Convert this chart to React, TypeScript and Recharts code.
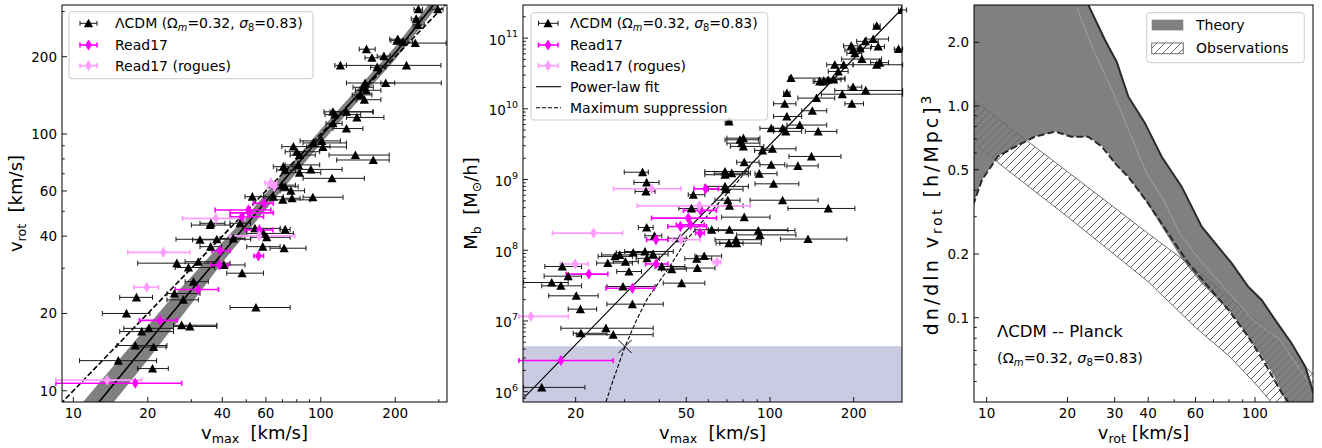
import React from 'react';
import { ComposedChart, XAxis, YAxis, Scatter, Line, Area, ErrorBar, ReferenceArea } from 'recharts';

const FONT = "'DejaVu Sans', 'Liberation Sans', sans-serif";
const MAGENTA = '#ff00ff';
const ROGUE = '#ff9cff';

// ---------------- Panel 1: v_rot vs v_max  [vmax, vrot, vmaxLow, vmaxHigh]
const p1Lcdm: number[][] = [
  [297, 306, 277, 312], [248, 306, 238, 258], [243, 281, 232, 255], [247, 266, 236, 262],
  [205, 234, 190, 225], [215, 228, 200, 235], [241, 226, 220, 321], [203, 231, 192, 215],
  [153, 214, 143, 166], [161, 198, 151, 179], [180, 201, 169, 191], [120, 185, 114, 127],
  [222, 185, 127, 306], [169, 182, 159, 183], [151, 158, 127, 307], [183, 158, 175, 199],
  [148, 152, 135, 163], [153, 148, 138, 175], [150, 136, 139, 175], [145, 142, 134, 161],
  [112, 122, 103, 163], [114, 119, 104, 145], [127, 122, 109, 162], [140, 116, 127, 180],
  [112, 110, 105, 122], [127, 105, 112, 148], [101, 94, 82.5, 120], [93.4, 92.3, 84.8, 127],
  [102, 89, 87.7, 127], [77.5, 89.3, 69.6, 109], [80, 85.3, 71.8, 99], [82, 82.8, 75.2, 95],
  [138, 82.8, 108, 189], [163, 79.2, 116, 189], [70.6, 74.6, 64.3, 82.5], [71.8, 72.4, 66.4, 79],
  [81.2, 75.8, 71.8, 99], [91.2, 72.8, 82.5, 122], [82, 70.7, 71.8, 100], [111, 67.2, 84.8, 150],
  [69.6, 63.2, 62.4, 79], [71.8, 62.3, 64, 81], [75.7, 60.1, 68.5, 86], [52.9, 57, 49.4, 58.7],
  [64.3, 57, 59.5, 70.6], [70.2, 55.4, 64.3, 90.6], [76.5, 56.2, 70.6, 82.5], [92.9, 56.7, 84.8, 123],
  [35.7, 44.2, 30, 43], [36, 44.9, 32.5, 41], [47.2, 44.9, 43, 52], [71.8, 42.5, 68.5, 75.2],
  [54.2, 42.9, 49.4, 68.5], [32.5, 38.7, 30.3, 38], [38, 38.9, 26, 52.1], [44.3, 39.2, 39.2, 49.4],
  [58.7, 41, 50.2, 77.5], [60.5, 39.6, 52.1, 75.2], [35.9, 36.4, 32.5, 39.7], [58.3, 36.4, 50.2, 68.5],
  [71.1, 35.9, 62.4, 87.2], [26.2, 31.4, 18.2, 43], [29.2, 30.2, 25.8, 37.3], [32, 31.8, 28.3, 38.6],
  [40.6, 30.9, 36.7, 49.4], [48.1, 28.7, 41.7, 58.7], [30.6, 26.6, 28.3, 35.1], [25.6, 23.9, 23.9, 32.5],
  [27.8, 22.6, 23.9, 32], [18, 23.1, 15.4, 20.9], [16.4, 20, 13.1, 20.4], [54.7, 21.1, 43, 75.2],
  [27.4, 18, 25.4, 38], [29.6, 17.8, 25.4, 38], [18.9, 17, 15.4, 25.4], [20.2, 17.5, 16, 25.4],
  [17.8, 15, 15, 23.9], [21.1, 14.8, 18, 23.7], [15.2, 13.1, 10.6, 21.7], [20.9, 12.2, 18.2, 24.2],
];
const p1Read17: number[][] = [
  [17.8, 10.7, 8.5, 27.4], [22.4, 18.8, 18.5, 26.2], [32, 24.8, 25.8, 38.6], [38.9, 30.9, 35.9, 42.3],
  [39.2, 35.1, 36.3, 43], [56, 33.5, 53.7, 58.7], [56.5, 42.3, 49.4, 64], [48, 47.6, 43, 58.7],
  [51, 50.6, 37.4, 62.8], [51.4, 49.3, 43, 64.3], [59, 53.7, 53.4, 64.3],
];
const p1Rogues: number[][] = [
  [13.7, 11.0, 8.5, 18.9], [19.8, 25.3, 17.6, 22.1], [23.1, 34.6, 16.6, 29.6], [37.7, 46.9, 27.6, 49.4],
  [56.4, 40.1, 43, 78.5], [62.8, 64.6, 59.5, 66.4], [65, 62.4, 61, 69],
];
const p1Fit: number[][] = [[12.7, 9.04], [25, 20], [48, 42.3], [102, 100], [200, 207], [285, 318]];
const p1OneToOne: number[][] = [[8, 8], [330, 330]];
// [vmax, low, high]
const p1Band: number[][] = [
  [10.8, 6.3, 8.9], [13, 7.9, 11.0], [16, 10.1, 13.9], [20, 13.2, 17.9], [25, 17.4, 23.0],
  [30, 21.8, 27.8], [40, 31.6, 37.9], [48, 39.2, 45.7], [70, 60.8, 69.7], [102, 93.9, 106.5],
  [150, 143, 160.7], [200, 195, 219], [285, 300, 337], [330, 358, 403],
];
const p1XTicks = [10, 20, 30, 40, 50, 60, 70, 80, 90, 100, 200, 300];
const p1XMajor = [10, 20, 40, 60, 100, 200];
const p1XLabels = ['10', '20', '40', '60', '100', '200'];
const p1YTicks = [10, 20, 30, 40, 50, 60, 70, 80, 90, 100, 200, 300];
const p1YMajor = [10, 20, 40, 60, 100, 200];
const p1YLabels = ['10', '20', '40', '60', '100', '200'];

// ---------------- Panel 2: M_b vs v_max  [vmax, Mb, vmaxLow, vmaxHigh]
const p2Lcdm: number[][] = [
  [298, 2.5e11, 290, 310], [242, 1.49e11, 236, 249], [196, 7.8e10, 184, 207], [199, 6.8e10, 186, 217],
  [202, 6.1e10, 189, 214], [211, 7.2e10, 199, 230], [220, 9.0e10, 205, 245], [235, 9.7e10, 222, 267],
  [245, 7.6e10, 232, 258], [290, 7.0e10, 280, 300], [214, 5.05e10, 181, 252], [171, 4.2e10, 160, 184],
  [184, 4.2e10, 171, 199], [242, 4.2e10, 199, 300], [248, 4.5e10, 230, 267], [176, 3.38e10, 162, 191],
  [119, 2.72e10, 117, 186], [151, 2.44e10, 143, 171], [156, 2.44e10, 145, 174], [162, 2.58e10, 150, 180],
  [169, 2.63e10, 156, 186], [199, 2.03e10, 191, 214], [221, 1.82e10, 171, 300], [182, 1.61e10, 153, 300],
  [115, 1.67e10, 112, 118], [147, 1.42e10, 126, 171], [113, 1.18e10, 103, 124], [197, 1.18e10, 186, 217],
  [142, 9.4e9, 130, 160], [115, 7.8e9, 103, 130], [71.2, 6.6e9, 69, 73], [128, 5.9e9, 115, 160],
  [149, 4.8e9, 134, 174], [101, 5.3e9, 92, 113], [111, 5.3e9, 103, 130], [114, 4.8e9, 103, 130],
  [78, 3.65e9, 68.9, 90.8], [80.2, 3.85e9, 70, 92], [79.1, 3.27e9, 70, 92], [80.2, 2.94e9, 72, 95],
  [94, 2.58e9, 88, 102], [102, 2.72e9, 93, 124], [80.8, 1.76e9, 75.9, 91.3], [141, 2.12e9, 117, 180],
  [101, 1.62e9, 92, 113], [126, 1.56e9, 115, 149], [68.9, 1.3e9, 58.3, 83.6], [72.8, 1.23e9, 63, 85],
  [68.9, 1.17e9, 58.3, 83.6], [34.8, 1.27e9, 29.9, 36.5], [91.5, 1.21e9, 88.3, 106], [36.0, 9.1e8, 32.4, 39.9],
  [35.8, 6.8e8, 32.7, 38.6], [68.9, 8.0e8, 58.3, 83.6], [69.3, 7.3e8, 60, 80], [103, 8.7e8, 88.3, 127],
  [53.0, 6.1e8, 50.8, 58.3], [111, 5.1e8, 84.8, 149], [70.5, 5.1e8, 63.4, 78], [71.5, 4.25e8, 65, 80],
  [162, 3.9e8, 116, 202], [52.2, 3.9e8, 47, 57], [80.8, 2.94e8, 67, 100], [36.0, 2.1e8, 33.6, 38],
  [38.4, 1.6e8, 35.5, 40.8], [61.7, 1.95e8, 53.7, 65.2], [71.5, 1.95e8, 60, 116], [90.8, 1.9e8, 60, 123],
  [92.0, 1.65e8, 75.9, 124], [137, 1.44e8, 109, 189], [75.5, 1.41e8, 63.4, 93.3], [75.9, 1.26e8, 66, 93],
  [71.2, 1.26e8, 64, 80], [47.5, 1.48e8, 43, 50], [58.0, 8.3e7, 53.7, 67], [54.5, 7.6e7, 49.4, 61.7],
  [35.5, 9.6e7, 30, 44.9], [38.0, 8.8e7, 32, 43], [32.2, 9.3e7, 28, 38], [28.8, 8.6e7, 24.8, 33],
  [27.7, 8.2e7, 24.1, 32], [26.1, 6.6e7, 23.8, 32], [30.2, 6.9e7, 27.3, 33.6], [36.1, 7.7e7, 33, 40],
  [40.8, 5.9e7, 38.6, 49.4], [44.3, 5.4e7, 40.8, 50], [54.8, 5.6e7, 44.9, 63.4], [17.9, 5.9e7, 15.5, 21.0],
  [18.8, 4.3e7, 15.4, 21.0], [16.4, 3.5e7, 13.0, 18.8], [17.7, 3.14e7, 15.1, 21.0], [31.1, 5.0e7, 28.1, 34.5],
  [48.1, 3.43e7, 41.3, 58.3], [29.6, 3.07e7, 25.9, 38.6], [20.1, 2.27e7, 16.0, 24.1], [32.0, 1.73e7, 25.9, 41.3],
  [20.8, 1.47e7, 18.8, 23.8], [25.7, 7.9e6, 17.7, 38.0], [20.9, 6.7e6, 19.6, 25.9], [27.3, 6.4e6, 20.1, 38.0],
  [15.1, 1.15e6, 13.0, 21.6],
];
const p2Read17: number[][] = [
  [58.7, 7.4e8, 53.3, 65.2], [56.3, 3.66e8, 48.8, 64.2], [50.8, 2.85e8, 37.5, 64.2], [47.6, 2.17e8, 42.9, 59.1],
  [51.8, 2.29e8, 46, 58], [56.0, 1.75e8, 54, 58], [38.9, 1.41e8, 36, 42.9], [38.9, 6.4e7, 35.7, 42.9],
  [22.3, 4.6e7, 18.5, 26.1], [32.0, 2.9e7, 25.7, 38.3], [17.7, 2.76e6, 12.5, 27.3],
];
const p2Rogues: number[][] = [
  [37.5, 7.4e8, 27.4, 47.8], [23.2, 1.75e8, 16.5, 29.5], [55.7, 4.25e8, 33.3, 84.8], [64.5, 6.8e7, 62.5, 66.5],
  [19.9, 6.4e7, 17.6, 22.2], [13.8, 1.16e7, 12.5, 18.8], [47.8, 1.41e8, 44.5, 56],
];
const p2PowerLaw: number[][] = [[13, 8.1e5], [300, 2.65e11]];
const p2MaxSuppression: number[][] = [
  [25.7, 7.2e5], [27.5, 1.6e6], [30.1, 4.35e6], [33, 1.0e7], [36, 1.99e7], [43.6, 5.9e7],
  [50.1, 1.4e8], [59.2, 3.0e8], [66.1, 4.9e8], [75, 8.5e8], [85, 1.55e9],
];
const p2Cross: number[][] = [[30.1, 4.35e6]];
const p2ShadeTop = 4.4e6;
const p2XTicks = [20, 30, 40, 50, 60, 70, 80, 90, 100, 200];
const p2XMajor = [20, 50, 100, 200];
const p2XLabels = ['20', '50', '100', '200'];
const p2YMajor = [1e6, 1e7, 1e8, 1e9, 1e10, 1e11];
const p2YExp = ['6', '7', '8', '9', '10', '11'];

// ---------------- Panel 3: velocity function  [vrot, low, high]
const p3Theory: number[][] = [
  [8.9, 0.34, 5], [9.6, 0.447, 5], [11, 0.577, 5], [12.8, 0.643, 5], [15.1, 0.716, 5], [18, 0.757, 5],
  [20.7, 0.716, 5], [23, 0.716, 3.5], [23.9, 0.716, 3.01], [27.6, 0.63, 2.05], [30.5, 0.52, 1.62],
  [33.7, 0.463, 1.11], [38.9, 0.36, 0.83], [44.9, 0.27, 0.576], [53.3, 0.19, 0.416], [63.3, 0.145, 0.269],
  [81.8, 0.105, 0.181], [94.4, 0.0813, 0.14], [106, 0.066, 0.121], [119, 0.052, 0.0975], [126, 0.044, 0.088],
  [137, 0.035, 0.0756], [154, 0.03, 0.0587], [165, 0.03, 0.044],
];
const p3TheoryUpper: number[][] = [
  [23.9, 3.01], [27.6, 2.05], [30.5, 1.62], [33.7, 1.11], [38.9, 0.83], [44.9, 0.576], [53.3, 0.416],
  [63.3, 0.269], [81.8, 0.181], [94.4, 0.14], [106, 0.121], [119, 0.0975], [137, 0.0756], [154, 0.0587], [165, 0.044],
];
const p3TheoryLower: number[][] = [
  [8.9, 0.34], [9.6, 0.447], [11, 0.577], [12.8, 0.643], [15.1, 0.716], [18, 0.757], [20.7, 0.716],
  [23.9, 0.716], [26.9, 0.643], [30.1, 0.536], [33.7, 0.463], [40, 0.347], [47.5, 0.25], [56.5, 0.181],
  [67, 0.14], [79.6, 0.109], [94.4, 0.0813], [109, 0.0608], [126, 0.044], [133, 0.04],
];
const p3TheoryMedian: number[][] = [
  [21.6, 2.94], [25, 1.84], [29.7, 1.15], [34.2, 0.743], [39.5, 0.481], [45.6, 0.36], [52.5, 0.25],
  [62.4, 0.187], [78.4, 0.135], [98.6, 0.0975], [124, 0.0784], [156, 0.0508],
];
const p3Obs: number[][] = [
  [8.9, 0.667, 1.07], [20, 0.3, 0.49], [40, 0.148, 0.25], [60, 0.09, 0.17], [80, 0.066, 0.125],
  [100, 0.049, 0.098], [115, 0.04, 0.085], [130, 0.033, 0.072], [165, 0.024, 0.054],
];
const p3XTicks = [10, 20, 30, 40, 50, 60, 70, 80, 90, 100];
const p3XMajor = [10, 20, 30, 40, 60, 100];
const p3XLabels = ['10', '20', '30', '40', '60', '100'];
const p3YTicks = [0.05, 0.06, 0.07, 0.08, 0.09, 0.1, 0.2, 0.3, 0.4, 0.5, 0.6, 0.7, 0.8, 0.9, 1, 2];
const p3YMajor = [0.1, 0.2, 0.5, 1, 2];
const p3YLabels = ['0.1', '0.2', '0.5', '1.0', '2.0'];

// ---------------- axis domains (visible ranges)
const P1X: [number, number] = [9.0, 323.7];
const P1Y: [number, number] = [9.04, 318];
const P2X: [number, number] = [12.93, 298.4];
const P2Y: [number, number] = [7.15e5, 2.94e11];
const P3X: [number, number] = [8.97, 164.5];
const P3Y: [number, number] = [0.04, 3.0];

const p2YTicks = [1e5, 1e6, 1e7, 1e8, 1e9, 1e10, 1e11]
  .flatMap((d) => [1, 2, 3, 4, 5, 6, 7, 8, 9].map((m) => m * d))
  .filter((v) => v > P2Y[0] && v < P2Y[1]);

// ---------------- helpers
const toRows = (pts: number[][]) => pts.map(([x, y, lo, hi]) => ({ x, y, ex: [x - lo, hi - x] }));
const toXY = (pts: number[][]) => pts.map(([x, y]) => ({ x, y }));
const toBand = (pts: number[][]) => pts.map(([x, lo, hi]) => ({ x, band: [lo, hi] }));
const idx = (arr: number[], v: number) => arr.findIndex((m) => Math.abs(v - m) <= Math.abs(m) * 1e-6);

const TICK_FS = 13.5;

const bottomTick = (majors: number[], labels: string[]) => (props: any) => {
  const { x, y, payload } = props;
  const i = idx(majors, payload.value);
  return (
    <g>
      <line x1={x} x2={x} y1={y} y2={y - (i >= 0 ? 5 : 2.8)} stroke="#000" strokeWidth={0.9} />
      {i >= 0 && (
        <text x={x} y={y + 15.5} textAnchor="middle" fontSize={TICK_FS} fontFamily={FONT} fill="#000">
          {labels[i]}
        </text>
      )}
    </g>
  );
};

const leftTick = (majors: number[], labels: string[]) => (props: any) => {
  const { x, y, payload } = props;
  const i = idx(majors, payload.value);
  return (
    <g>
      <line x1={x} x2={x + (i >= 0 ? 5 : 2.8)} y1={y} y2={y} stroke="#000" strokeWidth={0.9} />
      {i >= 0 && (
        <text x={x - 5} y={y + 5} textAnchor="end" fontSize={TICK_FS} fontFamily={FONT} fill="#000">
          {labels[i]}
        </text>
      )}
    </g>
  );
};

const leftTickPow = (majors: number[], exps: string[]) => (props: any) => {
  const { x, y, payload } = props;
  const i = idx(majors, payload.value);
  return (
    <g>
      <line x1={x} x2={x + (i >= 0 ? 5 : 2.8)} y1={y} y2={y} stroke="#000" strokeWidth={0.9} />
      {i >= 0 && (
        <text x={x - 5} y={y + 6.5} textAnchor="end" fontSize={TICK_FS} fontFamily={FONT} fill="#000">
          10<tspan fontSize={9.5} dy={-7.5}>{exps[i]}</tspan>
        </text>
      )}
    </g>
  );
};

const triangleShape = (color: string) => (p: any) => {
  const { cx, cy } = p;
  if (cx == null || cy == null) return <g />;
  return <path d={`M${cx},${cy - 4.6}L${cx + 4.6},${cy + 4}L${cx - 4.6},${cy + 4}Z`} fill={color} />;
};
const diamondShape = (color: string) => (p: any) => {
  const { cx, cy } = p;
  if (cx == null || cy == null) return <g />;
  return <path d={`M${cx},${cy - 5.6}L${cx + 3.4},${cy}L${cx},${cy + 5.6}L${cx - 3.4},${cy}Z`} fill={color} />;
};
const crossShape = (p: any) => {
  const { cx, cy } = p;
  if (cx == null || cy == null) return <g />;
  const r = 6.5;
  return (
    <path d={`M${cx - r},${cy - r}L${cx + r},${cy + r}M${cx - r},${cy + r}L${cx + r},${cy - r}`} stroke="#000" strokeWidth={1} fill="none" />
  );
};

const axisCommon = {
  type: 'number' as const,
  scale: 'log' as const,
  allowDataOverflow: true,
  interval: 0 as const,
  axisLine: false,
  tickLine: false,
  tickSize: 0,
  tickMargin: 0,
};

function Panel1() {
  return (
    <ComposedChart width={455} height={448} margin={{ top: 5, right: 8, bottom: 45, left: 61 }}>
      <XAxis {...axisCommon} dataKey="x" domain={P1X} ticks={p1XTicks} height={1} tick={bottomTick(p1XMajor, p1XLabels)} />
      <YAxis {...axisCommon} dataKey="y" domain={P1Y} ticks={p1YTicks} width={1} tick={leftTick(p1YMajor, p1YLabels)} />
      <Area data={toBand(p1Band)} dataKey="band" stroke="none" fill="#808080" fillOpacity={1} isAnimationActive={false} />
      <Line data={toXY(p1OneToOne)} dataKey="y" stroke="#000" strokeWidth={1.6} strokeDasharray="5.5 2.4" dot={false} isAnimationActive={false} />
      <Line data={toXY(p1Fit)} dataKey="y" stroke="#000" strokeWidth={1.6} dot={false} isAnimationActive={false} />
      <Scatter data={toRows(p1Lcdm)} shape={triangleShape('#000')} isAnimationActive={false}>
        <ErrorBar dataKey="ex" direction="x" width={2.5} stroke="#1a1a1a" strokeWidth={1} />
      </Scatter>
      <Scatter data={toRows(p1Read17)} shape={diamondShape(MAGENTA)} isAnimationActive={false}>
        <ErrorBar dataKey="ex" direction="x" width={2.5} stroke={MAGENTA} strokeWidth={1.6} />
      </Scatter>
      <Scatter data={toRows(p1Rogues)} shape={diamondShape(ROGUE)} isAnimationActive={false}>
        <ErrorBar dataKey="ex" direction="x" width={2.5} stroke={ROGUE} strokeWidth={1.6} />
      </Scatter>
    </ComposedChart>
  );
}

function Panel2() {
  return (
    <ComposedChart width={455} height={448} margin={{ top: 5, right: 8, bottom: 45, left: 67 }}>
      <XAxis {...axisCommon} dataKey="x" domain={P2X} ticks={p2XTicks} height={1} tick={bottomTick(p2XMajor, p2XLabels)} />
      <YAxis {...axisCommon} dataKey="y" domain={P2Y} ticks={p2YTicks} width={1} tick={leftTickPow(p2YMajor, p2YExp)} />
      <ReferenceArea y1={1e5} y2={p2ShadeTop} ifOverflow="hidden" fill="#cacae3" fillOpacity={1} stroke="none" />
      <Line data={toXY(p2PowerLaw)} dataKey="y" stroke="#000" strokeWidth={1.1} dot={false} isAnimationActive={false} />
      <Line data={toXY(p2MaxSuppression)} dataKey="y" stroke="#000" strokeWidth={1.1} strokeDasharray="4 2" dot={false} isAnimationActive={false} />
      <Scatter data={toXY(p2Cross)} shape={crossShape} isAnimationActive={false} />
      <Scatter data={toRows(p2Lcdm)} shape={triangleShape('#000')} isAnimationActive={false}>
        <ErrorBar dataKey="ex" direction="x" width={2.5} stroke="#1a1a1a" strokeWidth={1} />
      </Scatter>
      <Scatter data={toRows(p2Read17)} shape={diamondShape(MAGENTA)} isAnimationActive={false}>
        <ErrorBar dataKey="ex" direction="x" width={2.5} stroke={MAGENTA} strokeWidth={1.6} />
      </Scatter>
      <Scatter data={toRows(p2Rogues)} shape={diamondShape(ROGUE)} isAnimationActive={false}>
        <ErrorBar dataKey="ex" direction="x" width={2.5} stroke={ROGUE} strokeWidth={1.6} />
      </Scatter>
    </ComposedChart>
  );
}

function Panel3() {
  return (
    <ComposedChart width={412} height={448} margin={{ top: 5, right: 9, bottom: 45, left: 63 }}>
      <XAxis {...axisCommon} dataKey="x" domain={P3X} ticks={p3XTicks} height={1} tick={bottomTick(p3XMajor, p3XLabels)} />
      <YAxis {...axisCommon} dataKey="y" domain={P3Y} ticks={p3YTicks} width={1} tick={leftTick(p3YMajor, p3YLabels)} />
      <Area data={toBand(p3Theory)} dataKey="band" stroke="none" fill="#808080" fillOpacity={1} isAnimationActive={false} />
      <Line data={toXY(p3TheoryMedian)} dataKey="y" stroke="#a8a8a8" strokeWidth={0.8} dot={false} isAnimationActive={false} />
      <Area data={toBand(p3Obs)} dataKey="band" stroke="#707070" strokeWidth={1} fill="url(#obsHatch)" fillOpacity={1} isAnimationActive={false} />
      <Line data={toXY(p3TheoryUpper)} dataKey="y" stroke="#2a2a2a" strokeWidth={2} dot={false} isAnimationActive={false} />
      <Line data={toXY(p3TheoryLower)} dataKey="y" stroke="#2a2a2a" strokeWidth={2} strokeDasharray="7 3" dot={false} isAnimationActive={false} />
    </ComposedChart>
  );
}

const LegendErr = ({ x1, x2, y, color, w }: any) => (
  <g>
    <line x1={x1} x2={x2} y1={y} y2={y} stroke={color} strokeWidth={w} />
    <line x1={x1} x2={x1} y1={y - 2.5} y2={y + 2.5} stroke={color} strokeWidth={w} />
    <line x1={x2} x2={x2} y1={y - 2.5} y2={y + 2.5} stroke={color} strokeWidth={w} />
  </g>
);
const Tri = ({ cx, cy }: any) => <path d={`M${cx},${cy - 4.6}L${cx + 4.6},${cy + 4}L${cx - 4.6},${cy + 4}Z`} fill="#000" />;
const Dia = ({ cx, cy, color }: any) => (
  <path d={`M${cx},${cy - 5.6}L${cx + 3.4},${cy}L${cx},${cy + 5.6}L${cx - 3.4},${cy}Z`} fill={color} />
);

const LcdmText = ({ x, y, fs }: any) => (
  <text x={x} y={y} fontSize={fs} fontFamily={FONT} fill="#000">
    {'\u039BCDM (\u03A9'}
    <tspan fontStyle="italic" fontSize={fs * 0.7} dy={fs * 0.22}>m</tspan>
    <tspan dy={-fs * 0.22}>{'=0.32, '}</tspan>
    <tspan fontStyle="italic">{'\u03C3'}</tspan>
    <tspan fontSize={fs * 0.7} dy={fs * 0.22}>8</tspan>
    <tspan dy={-fs * 0.22}>{'=0.83)'}</tspan>
  </text>
);
const ParamText = ({ x, y, fs }: any) => (
  <text x={x} y={y} fontSize={fs} fontFamily={FONT} fill="#000">
    {'(\u03A9'}
    <tspan fontStyle="italic" fontSize={fs * 0.7} dy={fs * 0.22}>m</tspan>
    <tspan dy={-fs * 0.22}>{'=0.32, '}</tspan>
    <tspan fontStyle="italic">{'\u03C3'}</tspan>
    <tspan fontSize={fs * 0.7} dy={fs * 0.22}>8</tspan>
    <tspan dy={-fs * 0.22}>{'=0.83)'}</tspan>
  </text>
);

const TITLE_FS = 18;
const SUB_FS = 12.6;
const SUB_DY = 4;

function Overlay() {
  const t = { fontSize: TITLE_FS, fontFamily: FONT, fill: '#000' };
  return (
    <svg width={1322} height={448} style={{ position: 'absolute', left: 0, top: 0, pointerEvents: 'none' }}>
      {/* frames */}
      <rect x={62} y={5} width={385} height={397} fill="none" stroke="#000" strokeWidth={1} />
      <rect x={523} y={5} width={379} height={397} fill="none" stroke="#000" strokeWidth={1} />
      <rect x={974} y={5} width={339} height={397} fill="none" stroke="#000" strokeWidth={1} />

      {/* axis titles */}
      <text x={254.5} y={439} textAnchor="middle" {...t}>
        v<tspan fontSize={SUB_FS} dy={SUB_DY}>max</tspan>
        <tspan dy={-SUB_DY}>{'\u00a0\u00a0[km/s]'}</tspan>
      </text>
      <text x={22} y={203.5} textAnchor="middle" transform="rotate(-90 22 203.5)" {...t}>
        v<tspan fontSize={SUB_FS} dy={SUB_DY}>rot</tspan>
        <tspan dy={-SUB_DY}>{'\u00a0\u00a0[km/s]'}</tspan>
      </text>
      <text x={712.5} y={439} textAnchor="middle" {...t}>
        v<tspan fontSize={SUB_FS} dy={SUB_DY}>max</tspan>
        <tspan dy={-SUB_DY}>{'\u00a0\u00a0[km/s]'}</tspan>
      </text>
      <text x={477} y={203.5} textAnchor="middle" transform="rotate(-90 477 203.5)" {...t}>
        M<tspan fontSize={SUB_FS} dy={SUB_DY}>b</tspan>
        <tspan dy={-SUB_DY}>{'\u00a0\u00a0[M'}</tspan>
        <tspan fontSize={SUB_FS} dy={SUB_DY}>{'\u2299'}</tspan>
        <tspan dy={-SUB_DY}>/h]</tspan>
      </text>
      <text x={1143.5} y={439} textAnchor="middle" {...t}>
        v<tspan fontSize={SUB_FS} dy={SUB_DY}>rot</tspan>
        <tspan dy={-SUB_DY}>{'\u00a0[km/s]'}</tspan>
      </text>
      <text x={938} y={214} textAnchor="middle" transform="rotate(-90 938 214)" {...t} fontSize={19} letterSpacing={3}>
        {'dn/dln v'}
        <tspan fontSize={13.3} dy={SUB_DY}>rot</tspan>
        <tspan dy={-SUB_DY}>{'\u00a0[h/Mpc]'}</tspan>
        <tspan fontSize={13.3} dy={-7}>3</tspan>
      </text>

      {/* panel 3 annotation */}
      <text x={997} y={337} fontSize={16.5} fontFamily={FONT} fill="#000">{'\u039BCDM -- Planck'}</text>
      <ParamText x={997} y={363} fs={14.5} />

      {/* legend 1 */}
      <rect x={69} y={11.7} width={244} height={67} rx={3} fill="#fff" fillOpacity={0.8} stroke="#cccccc" strokeWidth={1} />
      <LegendErr x1={80} x2={97} y={23.3} color="#1a1a1a" w={1} />
      <Tri cx={88.5} cy={23.3} />
      <LcdmText x={115} y={28.3} fs={14} />
      <LegendErr x1={80} x2={97} y={45} color={MAGENTA} w={1.6} />
      <Dia cx={88.5} cy={45} color={MAGENTA} />
      <text x={115} y={50} fontSize={14} fontFamily={FONT}>Read17</text>
      <LegendErr x1={80} x2={97} y={65.7} color={ROGUE} w={1.6} />
      <Dia cx={88.5} cy={65.7} color={ROGUE} />
      <text x={115} y={70.7} fontSize={14} fontFamily={FONT}>Read17 (rogues)</text>

      {/* legend 2 */}
      <rect x={531} y={12.7} width={236.7} height={107.3} rx={3} fill="#fff" fillOpacity={0.8} stroke="#cccccc" strokeWidth={1} />
      <LegendErr x1={538.5} x2={558} y={23.3} color="#1a1a1a" w={1} />
      <Tri cx={548} cy={23.3} />
      <LcdmText x={570} y={28.3} fs={14} />
      <LegendErr x1={538.5} x2={558} y={45} color={MAGENTA} w={1.6} />
      <Dia cx={548} cy={45} color={MAGENTA} />
      <text x={570} y={50} fontSize={14} fontFamily={FONT}>Read17</text>
      <LegendErr x1={538.5} x2={558} y={65.7} color={ROGUE} w={1.6} />
      <Dia cx={548} cy={65.7} color={ROGUE} />
      <text x={570} y={70.7} fontSize={14} fontFamily={FONT}>Read17 (rogues)</text>
      <line x1={536} x2={561} y1={86.7} y2={86.7} stroke="#000" strokeWidth={1.1} />
      <text x={570} y={91.7} fontSize={14} fontFamily={FONT}>Power-law fit</text>
      <line x1={536} x2={561} y1={107.7} y2={107.7} stroke="#000" strokeWidth={1.1} strokeDasharray="4 2" />
      <text x={570} y={112.7} fontSize={14} fontFamily={FONT}>Maximum suppression</text>

      {/* legend 3 */}
      <rect x={1146.7} y={12.7} width={157.6} height={50} rx={3} fill="#fff" fillOpacity={0.8} stroke="#cccccc" strokeWidth={1} />
      <rect x={1151.7} y={19.7} width={31.6} height={10.7} fill="#808080" />
      <text x={1196} y={30} fontSize={14} fontFamily={FONT}>Theory</text>
      <rect x={1151.7} y={43} width={31.6} height={10.7} fill="url(#obsHatch)" stroke="#707070" strokeWidth={1} />
      <text x={1196} y={53.3} fontSize={14} fontFamily={FONT}>Observations</text>
    </svg>
  );
}

export default function App() {
  return (
    <div style={{ position: 'absolute', left: 0, top: 0, width: 1322, height: 448, background: '#fff', overflow: 'hidden' }}>
      <svg width={0} height={0} style={{ position: 'absolute' }}>
        <defs>
          <pattern id="obsHatch" patternUnits="userSpaceOnUse" width={8} height={8}>
            <path d="M-2,2 L2,-2 M0,8 L8,0 M6,10 L10,6" stroke="#666" strokeWidth={1} />
          </pattern>
        </defs>
      </svg>
      <div style={{ position: 'absolute', left: 0, top: 0 }}><Panel1 /></div>
      <div style={{ position: 'absolute', left: 455, top: 0 }}><Panel2 /></div>
      <div style={{ position: 'absolute', left: 910, top: 0 }}><Panel3 /></div>
      <Overlay />
    </div>
  );
}
